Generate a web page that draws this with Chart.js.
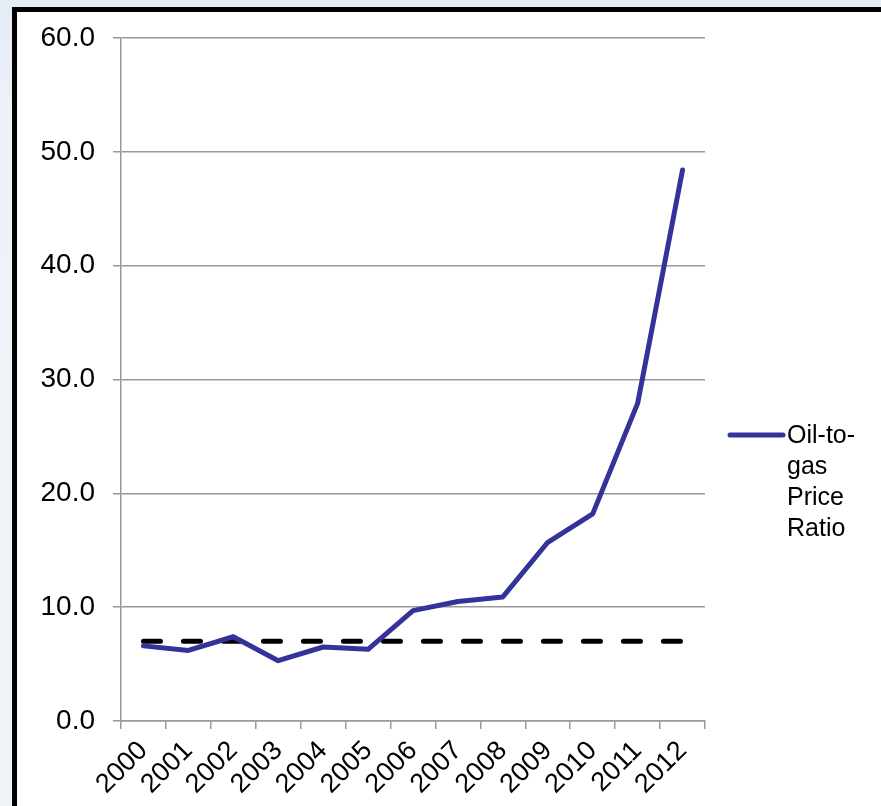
<!DOCTYPE html>
<html>
<head>
<meta charset="utf-8">
<script src="https://cdn.jsdelivr.net/npm/chart.js@4/dist/chart.umd.min.js"></script>
<style>
  html, body { margin: 0; padding: 0; width: 881px; height: 806px; overflow: hidden; }
  body { background: linear-gradient(180deg, #e4ecf6 0px, #eef2f8 120px, #f0f3f8 806px); position: relative; font-family: "Liberation Sans", Arial, sans-serif; }
  #frame { position: absolute; left: 12px; top: 7px; width: 900px; height: 900px; border: 5px solid #000; background: #fff; }
  #c { position: absolute; left: 0; top: 0; }
</style>
</head>
<body>
<div id="frame"></div>
<canvas id="c" width="881" height="806"></canvas>
<script>
const categories = ['2000','2001','2002','2003','2004','2005','2006','2007','2008','2009','2010','2011','2012'];
const ratioValues = [6.6, 6.2, 7.4, 5.3, 6.5, 6.3, 9.7, 10.5, 10.9, 15.7, 18.2, 27.9, 48.4];
const referenceValues = [7.0, 7.0, 7.0, 7.0, 7.0, 7.0, 7.0, 7.0, 7.0, 7.0, 7.0, 7.0, 7.0];
const seriesName = ['Oil-to-', 'gas', 'Price', 'Ratio'];
const yMin = 0, yMax = 60, yStep = 10;

const FONT = '"Liberation Sans", Arial, sans-serif';
const LINE_COLOR = '#333399';

const legendPlugin = {
  id: 'sideLegend',
  afterDraw(chart) {
    const ctx = chart.ctx;
    const area = chart.chartArea;
    const x0 = area.right + 25;
    const yLine = 435;
    ctx.save();
    ctx.strokeStyle = LINE_COLOR;
    ctx.lineWidth = 5;
    ctx.lineCap = 'round';
    ctx.beginPath();
    ctx.moveTo(x0, yLine);
    ctx.lineTo(x0 + 53, yLine);
    ctx.stroke();
    ctx.fillStyle = '#000';
    ctx.font = '25px ' + FONT;
    ctx.textAlign = 'left';
    ctx.textBaseline = 'alphabetic';
    seriesName.forEach((t, i) => {
      ctx.fillText(t, x0 + 57, 443 + i * 31);
    });
    ctx.restore();
  }
};

new Chart(document.getElementById('c'), {
  type: 'line',
  data: {
    labels: categories,
    datasets: [
      {
        label: seriesName.join(' '),
        data: ratioValues,
        borderColor: LINE_COLOR,
        borderWidth: 5,
        pointRadius: 0,
        tension: 0,
        borderCapStyle: 'round',
        borderJoinStyle: 'round',
        fill: false,
        order: 1
      },
      {
        label: 'reference',
        data: referenceValues,
        borderColor: '#000',
        borderWidth: 5,
        borderDash: [17, 23],
        borderCapStyle: 'round',
        pointRadius: 0,
        tension: 0,
        fill: false,
        order: 2
      }
    ]
  },
  options: {
    responsive: false,
    animation: false,
    devicePixelRatio: 1,
    layout: { padding: { left: 0, top: 38, right: 176, bottom: 0 } },
    plugins: { legend: { display: false }, tooltip: { enabled: false }, title: { display: false } },
    scales: {
      x: {
        offset: true,
        grid: { display: true, drawOnChartArea: false, offset: true, color: '#999', lineWidth: 1.5, tickLength: 8 },
        border: { display: true, color: '#999', width: 1.5 },
        ticks: { color: '#000', font: { family: FONT, size: 27 }, minRotation: 45, maxRotation: 45, padding: 6, autoSkip: false },
        afterFit(scale) { scale.height = 85; }
      },
      y: {
        min: yMin, max: yMax,
        grid: { color: '#999', lineWidth: 1.5, tickLength: 8 },
        border: { display: true, color: '#999', width: 1.5 },
        ticks: { stepSize: yStep, color: '#000', font: { family: FONT, size: 28 }, padding: 18,
          callback: (v) => Number(v).toFixed(1) },
        afterFit(scale) { scale.width = 121; }
      }
    }
  },
  plugins: [legendPlugin]
});
</script>
</body>
</html>
